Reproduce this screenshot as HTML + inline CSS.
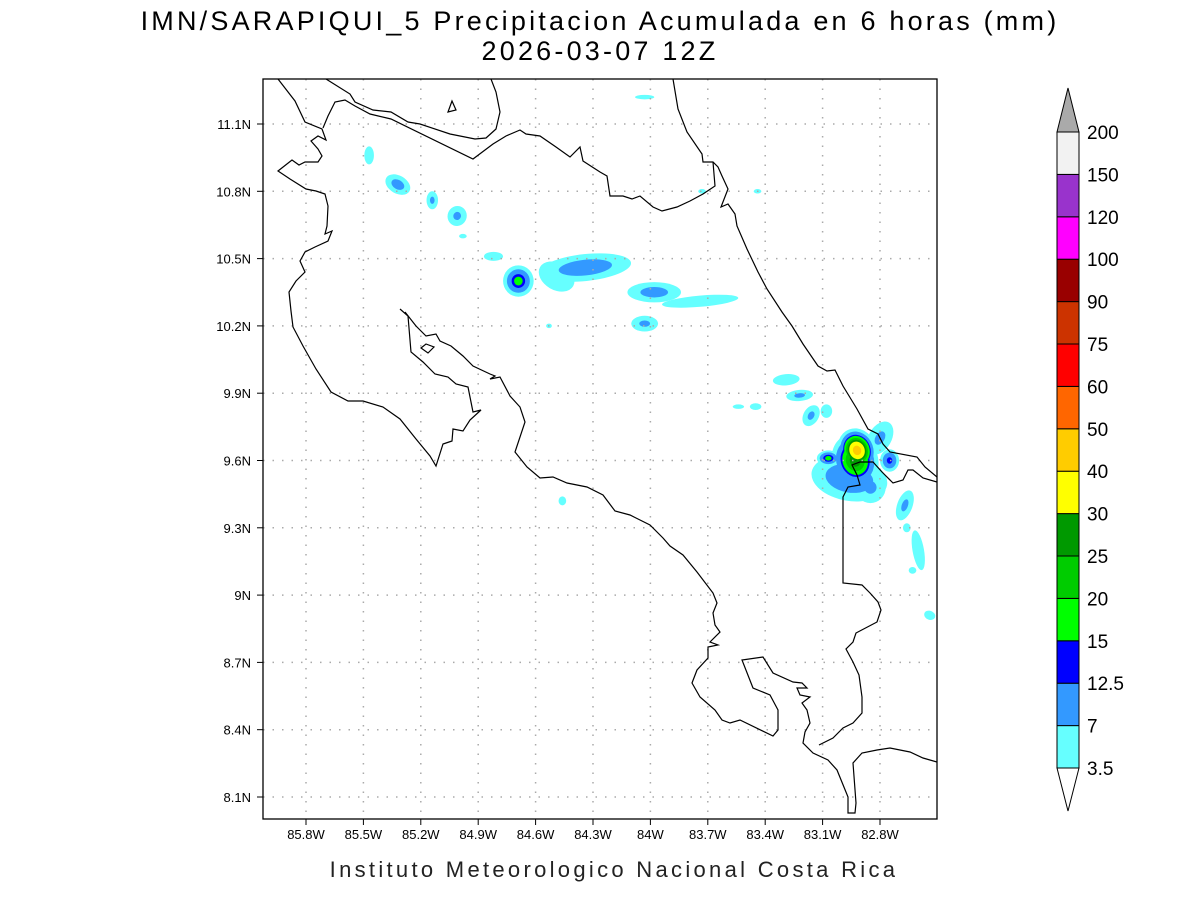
<!DOCTYPE html>
<html><head><meta charset="utf-8"><style>
body{margin:0;background:#fff;width:1200px;height:900px;overflow:hidden;font-family:"Liberation Sans",sans-serif}
svg text{font-family:"Liberation Sans",sans-serif}
</style></head><body>
<svg id="chart" width="1200" height="900">
<text x="600" y="30" font-size="27" text-anchor="middle" letter-spacing="3.2">IMN/SARAPIQUI_5 Precipitacion Acumulada en 6 horas (mm)</text>
<text x="600" y="60" font-size="27" text-anchor="middle" letter-spacing="3.2">2026-03-07 12Z</text>
<text x="614" y="877" font-size="22" text-anchor="middle" letter-spacing="3.3" fill="#222">Instituto Meteorologico Nacional Costa Rica</text>
<defs><clipPath id="pc"><rect x="263" y="79" width="674" height="740"/></clipPath></defs>
<g id="blobs" clip-path="url(#pc)"></g>
<g id="grid"></g>
<g id="coast" fill="none" stroke="#000" stroke-width="1.2" clip-path="url(#pc)">
<polyline points="278,79 295,101 305,122 322,129 326,140 318,136 311,141 318,149 322,156 318,162 305,162 299,165 292,160 278,171 290,179 306,189 316,191 325,194 328,206 327,226 325,234 332,231 328,241 315,247 305,252 300,261 305,272 296,281 289,292 291,311 293,327 303,346 316,369 331,392 348,401 363,401 383,407 400,419 416,439 430,456 436,466 443,444 452,441 453,429 463,431 470,420 481,410 473,412 468,387 456,384 448,377 435,374 423,362 411,352 408,316 400,309"/>
<polyline points="405,312 416,326 426,336 436,334 440,341 451,346 463,356 473,366 490,374 495,376 490,379 500,377 510,396 520,407 525,422 515,452 527,467 540,478 553,477 567,483 587,487 603,495 615,511 630,515 650,525 663,538 670,546 683,555 697,572 713,593 717,603 713,613 715,625 720,632 710,642 718,645 708,647 708,658 697,670 692,683 700,697 715,710 722,720 730,723 740,720 773,736 778,730 778,710 770,695 753,688 742,660 763,657 773,673 793,682 802,683 807,688 797,688 800,695 810,697 802,703 807,710 810,723 805,732 803,743 813,753 828,760 837,770 848,797 848,813 855,813 856,803 853,763 862,753 877,750 890,748 910,752 923,758 937,762"/>
<polyline points="819,745 833,738 843,728 853,723 862,713 862,697 859,675 853,662 846,649 853,642 856,633 877,622 881,610 878,602 870,593 862,585 843,583 843,497 848,487 860,485 857,475 852,465 860,462 873,462 882,472 893,483 903,480 908,470 913,470 923,478 937,482"/>
<polyline points="673,79 678,109 687,132 702,154 703,162 713,162 718,167 722,176 728,189 721,207 728,204 735,214 737,226 747,249 758,272 767,289 782,312 792,326 803,344 818,366 827,371 835,370 843,386 857,409 868,429 878,434 883,444 890,452 917,457 925,467 937,477"/>
<polyline points="713,162 715,186 703,194 690,201 677,207 662,211 653,207 640,196 632,199 623,196 610,196 607,176 600,172 583,161 580,147 570,157 556,147 540,136 526,134 520,130 506,136 493,144 473,159 391,119 370,114 355,106 345,100 335,102 328,116 323,128"/>
<polyline points="326,79 350,94 355,102 373,110 391,112 408,122 420,124 450,134 475,139 486,138 496,129 500,112 496,92 491,79"/>
<polygon points="448,112 452,101 456,110"/>
<polygon points="421,348 426,344 434,347 428,353"/>
</g>
<rect x="263" y="79" width="674" height="740" fill="none" stroke="#000" stroke-width="1.3"/>
<g id="axes"></g>
<g id="cbar"></g>
</svg>
<script>
const lonTicks=[85.8,85.5,85.2,84.9,84.6,84.3,84.0,83.7,83.4,83.1,82.8];
const latTicks=[11.1,10.8,10.5,10.2,9.9,9.6,9.3,9.0,8.7,8.4,8.1];
const levels=[3.5,7,12.5,15,20,25,30,40,50,60,75,90,100,120,150,200];
const levelColors=["#66ffff","#3399ff","#0000ff","#00ff00","#00cc00","#009900","#ffff00","#ffcc00","#ff6600","#ff0000","#cc3300","#990000","#ff00ff","#9933cc","#f2f2f2"];
const blobLon=[85.47,85.32,85.14,85.01,84.98,84.82,84.69,84.34,84.49,83.98,83.74,84.03,84.53,84.03,83.73,83.44,83.29,83.22,83.16,83.08,83.54,83.45,82.96,82.93,82.92,83.07,82.75,82.67,82.60,82.66,82.54,84.46,82.63,82.80,82.85];
const blobLat=[10.96,10.83,10.76,10.69,10.60,10.51,10.40,10.46,10.42,10.35,10.31,10.21,10.20,11.22,10.80,10.80,9.96,9.89,9.80,9.82,9.84,9.84,9.52,9.60,9.645,9.61,9.60,9.40,9.20,9.30,8.91,9.42,9.11,9.70,9.48];
const blobRLon=[0.025,0.07,0.03,0.05,0.02,0.05,0.08,0.24,0.10,0.14,0.20,0.07,0.015,0.05,0.02,0.02,0.07,0.07,0.04,0.03,0.03,0.03,0.20,0.12,0.10,0.06,0.05,0.04,0.03,0.02,0.03,0.02,0.02,0.06,0.08];
const blobRLat=[0.04,0.04,0.04,0.045,0.01,0.02,0.07,0.06,0.06,0.045,0.025,0.035,0.01,0.01,0.01,0.01,0.025,0.025,0.05,0.03,0.01,0.015,0.10,0.12,0.10,0.035,0.05,0.07,0.09,0.02,0.02,0.02,0.015,0.08,0.07];
const blobPeak=[5,9,8,8,4,5,17,10,7,9,5,8,4,4,4,4,5,8,8,5,4,5,11,28,45,17,14,8,5,4,5,5,4,8,8];
const blobAng=[0,30,0,20,0,0,0,-6,30,0,-5,0,0,0,0,0,-5,-5,30,0,0,0,10,-20,-20,0,0,20,-10,0,20,0,0,30,0];

const NS="http://www.w3.org/2000/svg";
const X=lon=>306+(85.8-lon)*191.33;
const Y=lat=>124+(11.1-lat)*224.33;
function mk(t,a,p){const e=document.createElementNS(NS,t);for(const k in a)e.setAttribute(k,a[k]);p.appendChild(e);return e;}

const gb=document.getElementById('blobs');
for(let k=0;k<levelColors.length;k++){
  for(let i=0;i<blobLon.length;i++){
    const pk=blobPeak[i];if(levels[k]>=pk)continue;
    const f=Math.sqrt(Math.log(pk/levels[k])/Math.log(pk/3.5));
    const cx=X(blobLon[i]),cy=Y(blobLat[i]);
    const e=mk('ellipse',{cx:cx,cy:cy,rx:f*blobRLon[i]*191.33,ry:f*blobRLat[i]*224.33,fill:levelColors[k],transform:`rotate(${blobAng[i]} ${cx} ${cy})`},gb);
    
    
  }
}
const gg=document.getElementById('grid');
lonTicks.forEach(l=>{const x=X(l);const e=mk('line',{x1:x,y1:79,x2:x,y2:819,stroke:'#aaa','stroke-width':1.5,'stroke-dasharray':'1.5,8'},gg);
 });
latTicks.forEach(l=>{const y=Y(l);const e=mk('line',{x1:263,y1:y,x2:937,y2:y,stroke:'#aaa','stroke-width':1.5,'stroke-dasharray':'1.5,8'},gg);
 });
const ga=document.getElementById('axes');
lonTicks.forEach(l=>{const x=X(l);
 mk('line',{x1:x,y1:819,x2:x,y2:825,stroke:'#000'},ga);
 const t=mk('text',{x:x,y:839,'font-size':13,'text-anchor':'middle'},ga);t.textContent=(Math.round(l*10)/10)+'W';
 });
latTicks.forEach(l=>{const y=Y(l);
 mk('line',{x1:257,y1:y,x2:263,y2:y,stroke:'#000'},ga);
 const t=mk('text',{x:251,y:y+5,'font-size':13,'text-anchor':'end'},ga);t.textContent=(Math.round(l*10)/10)+'N';
 });
const gc=document.getElementById('cbar');
const cbTop=132,cbBot=768,n=levelColors.length,h=(cbBot-cbTop)/n;
for(let k=0;k<n;k++){const y=cbBot-(k+1)*h;
 const r=mk('rect',{x:1057,y:y,width:22,height:h,fill:levelColors[k],stroke:'#000','stroke-width':1},gc);
 }
const tu=mk('polygon',{points:`1057,${cbTop} 1079,${cbTop} 1068,88`,fill:'#aaaaaa',stroke:'#000'},gc);

const td=mk('polygon',{points:`1057,${cbBot} 1079,${cbBot} 1068,811`,fill:'#fff',stroke:'#000'},gc);

levels.forEach((v,k)=>{const y=cbBot-k*h;
 const t=mk('text',{x:1087,y:y+7,'font-size':19},gc);t.textContent=v;
 });
</script>
</body></html>
